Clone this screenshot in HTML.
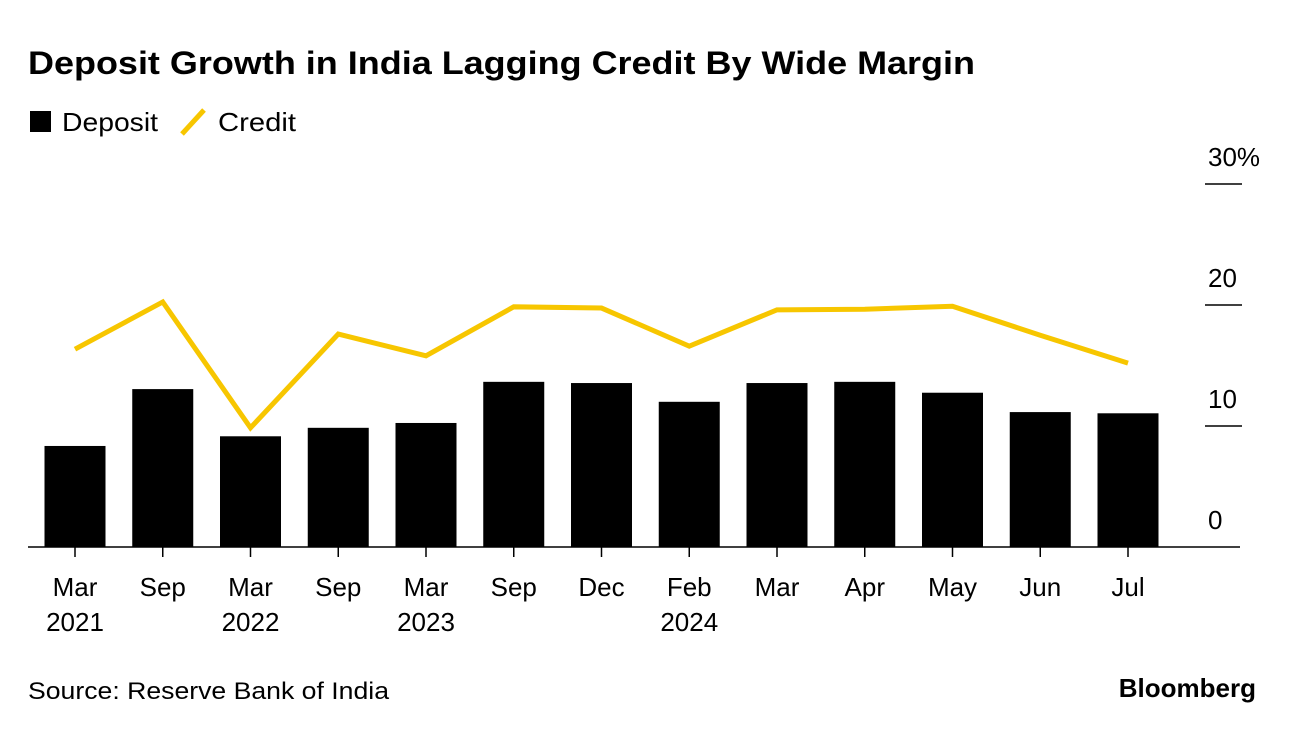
<!DOCTYPE html>
<html><head><meta charset="utf-8"><style>
body{margin:0;background:#fff;font-family:"Liberation Sans",sans-serif;}
svg text{font-family:"Liberation Sans",sans-serif;}
</style></head><body>
<svg width="1296" height="732" viewBox="0 0 1296 732">
<text x="28" y="74" font-size="32" font-weight="bold" fill="#000" textLength="947" lengthAdjust="spacingAndGlyphs">Deposit Growth in India Lagging Credit By Wide Margin</text>
<g>
<rect x="30" y="111" width="21" height="21" fill="#000"/>
<text x="62" y="131" font-size="26" fill="#000" textLength="96" lengthAdjust="spacingAndGlyphs">Deposit</text>
<line x1="182" y1="134" x2="204" y2="110" stroke="#f7c600" stroke-width="5"/>
<text x="218" y="131" font-size="26" fill="#000" textLength="78" lengthAdjust="spacingAndGlyphs">Credit</text>
</g>
<g id="yaxis"></g>
<g id="bars"></g>
<g id="xaxis"></g>
<polyline id="credit" fill="none" stroke="#f7c600" stroke-width="5" stroke-linejoin="miter"/>
<text x="28" y="699" font-size="24" fill="#000" textLength="361" lengthAdjust="spacingAndGlyphs">Source: Reserve Bank of India</text>
<text x="1256" y="697" font-size="26" font-weight="bold" fill="#000" text-anchor="end">Bloomberg</text>
</svg>
<script>
const categories=["Mar","Sep","Mar","Sep","Mar","Sep","Dec","Feb","Mar","Apr","May","Jun","Jul"];
const years=["2021","","2022","","2023","","","2024","","","","",""];
const deposit=[8.35,13.05,9.15,9.85,10.25,13.65,13.55,12.0,13.55,13.65,12.75,11.15,11.05];
const credit=[16.35,20.25,9.85,17.6,15.8,19.85,19.75,16.6,19.6,19.65,19.9,17.5,15.2];
const yTicks=[0,10,20,30];
const yTickLabels=["0","10","20","30%"];
const NS="http://www.w3.org/2000/svg";
const y0=547,ppu=12.1;
function yScale(v){return y0-v*ppu;}
function xScale(i){return 75+i*87.75;}
function mk(tag,attrs,parent){const e=document.createElementNS(NS,tag);for(const k in attrs)e.setAttribute(k,attrs[k]);parent.appendChild(e);return e;}
const ya=document.getElementById('yaxis'),bg=document.getElementById('bars'),xa=document.getElementById('xaxis');
yTicks.forEach((t,i)=>{
  if(t!==0){const l=mk('line',{x1:1205,x2:1242,y1:yScale(t),y2:yScale(t),stroke:'#000','stroke-width':1.5},ya);
  
  }
  const tx=mk('text',{x:1208,y:yScale(t)-18,'font-size':26,fill:'#000'},ya);
  tx.textContent=yTickLabels[i];
  
  
});
deposit.forEach((v,i)=>{
  const r=mk('rect',{x:xScale(i)-30.5,y:yScale(v),width:61,height:y0-yScale(v),fill:'#000'},bg);
  
  
});
const ax=mk('line',{x1:28,x2:1240,y1:y0,y2:y0,stroke:'#000','stroke-width':1.5},xa);


categories.forEach((c,i)=>{
  const tk=mk('line',{x1:xScale(i),x2:xScale(i),y1:y0,y2:y0+10,stroke:'#000','stroke-width':1.5},xa);
  
  
  const t=mk('text',{x:xScale(i),y:596,'font-size':26,'text-anchor':'middle',fill:'#000'},xa);
  t.textContent=c;
  
  
  if(years[i]){const t2=mk('text',{x:xScale(i),y:631,'font-size':26,'text-anchor':'middle',fill:'#000'},xa);
  t2.textContent=years[i];
  
  }
});
document.getElementById('credit').setAttribute('points',credit.map((v,i)=>xScale(i)+','+yScale(v)).join(' '));
</script>
</body></html>
